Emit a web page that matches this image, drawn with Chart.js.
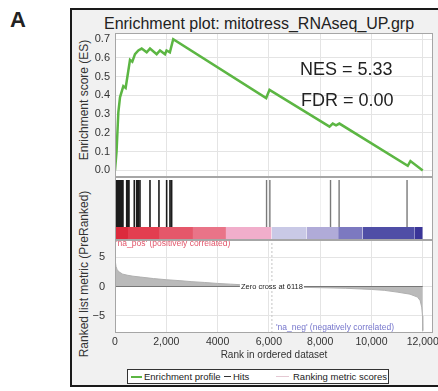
<!DOCTYPE html>
<html>
<head>
<meta charset="utf-8">
<script src="https://cdn.jsdelivr.net/npm/chart.js@4"></script>
<style>
    body { margin: 0; background: #fff; font-family: "Liberation Sans", Arial, sans-serif; color: #222; }
    #wrap { position: relative; width: 438px; height: 391px; overflow: hidden; }
    #frame { position: absolute; left: 70px; top: 8px; width: 390px; height: 379px; border: 2px solid #1a1a1a; background: #f1f1f1; box-sizing: border-box; }
    canvas { position: absolute; }
    .txt { position: absolute; white-space: nowrap; }
    .ytitle { position: absolute; transform: translate(-50%, -50%) rotate(-90deg); white-space: nowrap; font-size: 12px; color: #333; }
    #legend { position: absolute; left: 127px; top: 369px; width: 262px; height: 15px; border: 1px solid #333; background: #fff; box-sizing: border-box; font-size: 9.5px; }
    #legend span { position: absolute; top: 0; line-height: 13px; white-space: nowrap; }
    #legend i { position: absolute; display: block; }
</style>
</head>
<body>
<div id="wrap">
    <div class="txt" style="left:10px; top:9px; font-size:22px; line-height:22px; font-weight:bold;">A</div>
    <div id="frame"></div>
    <div class="txt" style="left:259px; top:24px; transform:translate(-50%,-50%); font-size:16px; line-height:16px;">Enrichment plot: mitotress_RNAseq_UP.grp</div>
    <div class="ytitle" style="left:84px; top:100px;">Enrichment score (ES)</div>
    <div class="ytitle" style="left:84px; top:274px;">Ranked list metric (PreRanked)</div>

    <canvas id="esChart" width="367" height="150" style="left:71px; top:27px;"></canvas>
    <canvas id="hitsChart" width="367" height="63" style="left:71px; top:177px;"></canvas>
    <canvas id="rankChart" width="367" height="125" style="left:71px; top:240px;"></canvas>

    <div id="legend">
        <i style="left:3px; top:6px; width:11px; height:2px; background:#5cb643;"></i>
        <span style="left:16px;">Enrichment profile</span>
        <i style="left:96px; top:6px; width:7px; height:1.3px; background:#333;"></i>
        <span style="left:105px;">Hits</span>
        <i style="left:148px; top:6px; width:13px; height:1px; background:#e4c9d3;"></i>
        <span style="left:165px;">Ranking metric scores</span>
    </div>
</div>

<script>
// running enrichment score
const esRanks = [0, 60, 130, 195, 325, 415, 495, 585, 675, 780, 910, 1040, 1235, 1365, 1625, 1755, 1950, 2010, 2140, 2270, 5895, 6025, 8365, 8490, 8620, 8750, 11415, 11520, 12000];
const esValues = [0, 0.10, 0.31, 0.39, 0.45, 0.44, 0.51, 0.59, 0.58, 0.62, 0.64, 0.65, 0.63, 0.65, 0.62, 0.64, 0.62, 0.64, 0.63, 0.70, 0.386, 0.43, 0.234, 0.25, 0.24, 0.25, 0.025, 0.05, 0];

// gene set hits (rank positions)
const hitRanks = [0, 20, 45, 70, 95, 130, 160, 200, 240, 280, 310, 456, 518, 545, 752, 845, 908, 974, 1364, 1714, 2014, 2143, 2209, 5910, 6039, 8404, 8739, 11388];

// ranked list metric
const metricRanks = [0, 15, 40, 80, 150, 300, 500, 700, 1000, 1500, 2000, 2500, 3000, 3500, 4000, 4500, 5000, 5500, 6118, 7000, 8000, 9000, 10000, 10500, 11000, 11500, 11800, 11900, 11960, 11990, 12000];
const metricValues = [5.2, 4.2, 3.4, 2.9, 2.5, 2.1, 1.9, 1.75, 1.6, 1.35, 1.15, 1.0, 0.82, 0.68, 0.52, 0.4, 0.28, 0.15, 0, -0.12, -0.2, -0.3, -0.5, -0.65, -0.95, -1.3, -1.8, -2.4, -3.5, -5, -7.5];

// heat bar blocks along the ranked list
const barEdges = [0, 506, 1750, 3040, 4325, 6105, 7470, 8700, 9650, 11690, 12000];
const barColors = ['#dc2a3c', '#e33e50', '#e5576a', '#e97488', '#f1aecb', '#c9c9e6', '#b0abd8', '#7c79c0', '#4f4ea6', '#3a3598'];

const xTicks = [0, 2000, 4000, 6000, 8000, 10000, 12000];
const xTickLabels = ['0', '2,000', '4000', '6,000', '8,000', '10,000', '12,000'];
const esTicks = [0, 0.1, 0.2, 0.3, 0.4, 0.5, 0.6, 0.7];
const metricTicks = [-5, 0, 5];
const zeroCross = 6118;
const nesText = 'NES = 5.33';
const fdrText = 'FDR = 0.00';

Chart.defaults.font.family = '"Liberation Sans", Arial, sans-serif';
Chart.defaults.color = '#333';
Chart.defaults.animation = false;

const GRID = '#e4e4e4';

const panelPlugin = {
    id: 'panel',
    beforeDraw(chart) {
        const a = chart.chartArea;
        const ctx = chart.ctx;
        ctx.save();
        ctx.fillStyle = '#fff';
        ctx.fillRect(a.left, a.top, a.width, a.height);
        ctx.restore();
    },
    afterDraw(chart) {
        const a = chart.chartArea;
        const ctx = chart.ctx;
        ctx.save();
        ctx.strokeStyle = '#a6a6a6';
        ctx.lineWidth = 1;
        ctx.strokeRect(a.left + 0.5, a.top + 0.5, a.width - 1, a.height - 1);
        ctx.restore();
    }
};

// keep every panel's plot area at the same pixel box
function fixX(h) {
    return (axis) => {
        axis.height = h;
        axis.paddingLeft = 0;
        axis.paddingRight = 0;
        axis.paddingTop = 0;
        axis.paddingBottom = 0;
    };
}

function fixY(axis) {
    axis.width = 44;
    axis.paddingTop = 0;
    axis.paddingBottom = 0;
    axis.paddingLeft = 0;
    axis.paddingRight = 0;
}

function xScale(showTicks) {
    return {
        type: 'linear',
        min: 0,
        max: 12400,
        afterBuildTicks: (axis) => { axis.ticks = xTicks.map(v => ({ value: v })); },
        afterFit: fixX(showTicks ? 32 : 0),
        grid: { color: GRID, drawTicks: false },
        border: { display: false },
        ticks: {
            display: showTicks,
            padding: 3,
            maxRotation: 0,
            font: { size: 10.5 },
            callback: (v) => xTickLabels[xTicks.indexOf(v)]
        },
        title: {
            display: showTicks,
            text: 'Rank in ordered dataset',
            font: { size: 10 },
            padding: { top: 0, bottom: 4 }
        }
    };
}

function pts(xs, ys) {
    return xs.map((x, i) => ({ x: x, y: ys[i] }));
}

function esChart() {

    const ctx = document.getElementById('esChart');

    new Chart(ctx, {
        type: 'line',
        data: {
            datasets: [{
                data: pts(esRanks, esValues),
                borderColor: '#5cb643',
                borderWidth: 2.5,
                pointRadius: 0,
                tension: 0
            }]
        },
        options: {
            responsive: false,
            layout: { padding: { top: 6, right: 5, left: 0, bottom: 0 } },
            plugins: { legend: { display: false }, tooltip: { enabled: false } },
            scales: {
                x: xScale(false),
                y: {
                    min: -0.035,
                    max: 0.733,
                    afterBuildTicks: (axis) => { axis.ticks = esTicks.map(v => ({ value: v })); },
                    afterFit: fixY,
                    grid: { color: GRID, drawTicks: false },
                    border: { display: false },
                    ticks: { padding: 5, font: { size: 11 }, callback: (v) => v.toFixed(1) }
                }
            }
        },
        plugins: [panelPlugin, {
            id: 'esText',
            afterDatasetsDraw(chart) {
                const a = chart.chartArea;
                const c = chart.ctx;
                c.save();
                c.font = '18px "Liberation Sans", Arial, sans-serif';
                c.fillStyle = '#222';
                c.textBaseline = 'middle';
                c.fillText(nesText, a.left + 185, a.top + 37);
                c.fillText(fdrText, a.left + 186, a.top + 68.5);
                c.restore();
            }
        }]
    });

}

function hitsChart() {

    const ctx = document.getElementById('hitsChart');

    const barTop = 0.206;
    const barBottom = 0.016;
    const hitTop = 0.952;

    const datasets = barColors.map((col, i) => ({
        data: [{ x: barEdges[i], y: barTop }, { x: barEdges[i + 1], y: barTop }],
        fill: { value: barBottom },
        backgroundColor: col,
        borderWidth: 0,
        pointRadius: 0
    }));

    function hitLines(ranks) {
        const out = [];
        ranks.forEach(r => {
            out.push({ x: r, y: barTop }, { x: r, y: hitTop }, { x: r, y: null });
        });
        return out;
    }

    datasets.push({
        data: hitLines(hitRanks.filter(r => r < 3000)),
        borderColor: '#1c1c1c',
        borderWidth: 1.6,
        pointRadius: 0,
        spanGaps: false
    });
    datasets.push({
        data: hitLines(hitRanks.filter(r => r >= 3000)),
        borderColor: '#7a7a7a',
        borderWidth: 1.4,
        pointRadius: 0,
        spanGaps: false
    });

    new Chart(ctx, {
        type: 'line',
        data: { datasets: datasets },
        options: {
            responsive: false,
            layout: { padding: { top: 0, right: 5, left: 0, bottom: 0 } },
            plugins: { legend: { display: false }, tooltip: { enabled: false } },
            scales: {
                x: Object.assign(xScale(false), { grid: { color: '#f0f0f0', drawTicks: false } }),
                y: {
                    min: 0,
                    max: 1,
                    afterFit: fixY,
                    grid: { display: false },
                    border: { display: false },
                    ticks: { display: false }
                }
            }
        },
        plugins: [panelPlugin]
    });

}

function rankChart() {

    const ctx = document.getElementById('rankChart');

    new Chart(ctx, {
        type: 'line',
        data: {
            datasets: [{
                data: [{ x: 0, y: 0 }, { x: 12000, y: 0 }],
                borderColor: '#777',
                borderWidth: 1,
                pointRadius: 0,
                order: 0
            }, {
                data: [{ x: zeroCross, y: -7.9 }, { x: zeroCross, y: 7.9 }],
                borderColor: '#c4c4c4',
                borderWidth: 1,
                borderDash: [2, 2],
                pointRadius: 0,
                order: 1
            }, {
                data: pts(metricRanks, metricValues),
                fill: 'origin',
                backgroundColor: '#bababa',
                borderColor: '#b0b0b0',
                borderWidth: 1,
                pointRadius: 0,
                tension: 0,
                order: 2
            }]
        },
        options: {
            responsive: false,
            layout: { padding: { top: 0, right: 5, left: 0, bottom: 0 } },
            plugins: { legend: { display: false }, tooltip: { enabled: false } },
            scales: {
                x: xScale(true),
                y: {
                    min: -7.9,
                    max: 7.9,
                    afterBuildTicks: (axis) => { axis.ticks = metricTicks.map(v => ({ value: v })); },
                    afterFit: fixY,
                    grid: { color: GRID, drawTicks: false },
                    border: { display: false },
                    ticks: { padding: 10, font: { size: 11 }, callback: (v) => v < 0 ? '\u2212' + Math.abs(v) : String(v) }
                }
            }
        },
        plugins: [panelPlugin, {
            id: 'rankText',
            afterDatasetsDraw(chart) {
                const a = chart.chartArea;
                const c = chart.ctx;
                const xs = chart.scales.x;
                const ys = chart.scales.y;
                const zx = xs.getPixelForValue(zeroCross);
                const zy = ys.getPixelForValue(0);
                c.save();
                c.textBaseline = 'middle';

                c.font = '7.5px "Liberation Sans", Arial, sans-serif';
                const label = 'Zero cross at ' + zeroCross;
                const w = c.measureText(label).width;
                c.fillStyle = '#fff';
                c.fillRect(zx - w / 2 - 1, zy - 4, w + 2, 8);
                c.fillStyle = '#222';
                c.textAlign = 'center';
                c.fillText(label, zx, zy + 0.5);

                c.font = '8.5px "Liberation Sans", Arial, sans-serif';
                c.textAlign = 'left';
                c.fillStyle = '#e2566b';
                c.fillText("'na_pos' (positively correlated)", a.left + 1, a.top + 3.5);
                c.fillStyle = '#7676cc';
                c.fillText("'na_neg' (negatively correlated)", zx + 4, a.bottom - 5);
                c.restore();
            }
        }]
    });

}

esChart();
hitsChart();
rankChart();
</script>
</body>
</html>
